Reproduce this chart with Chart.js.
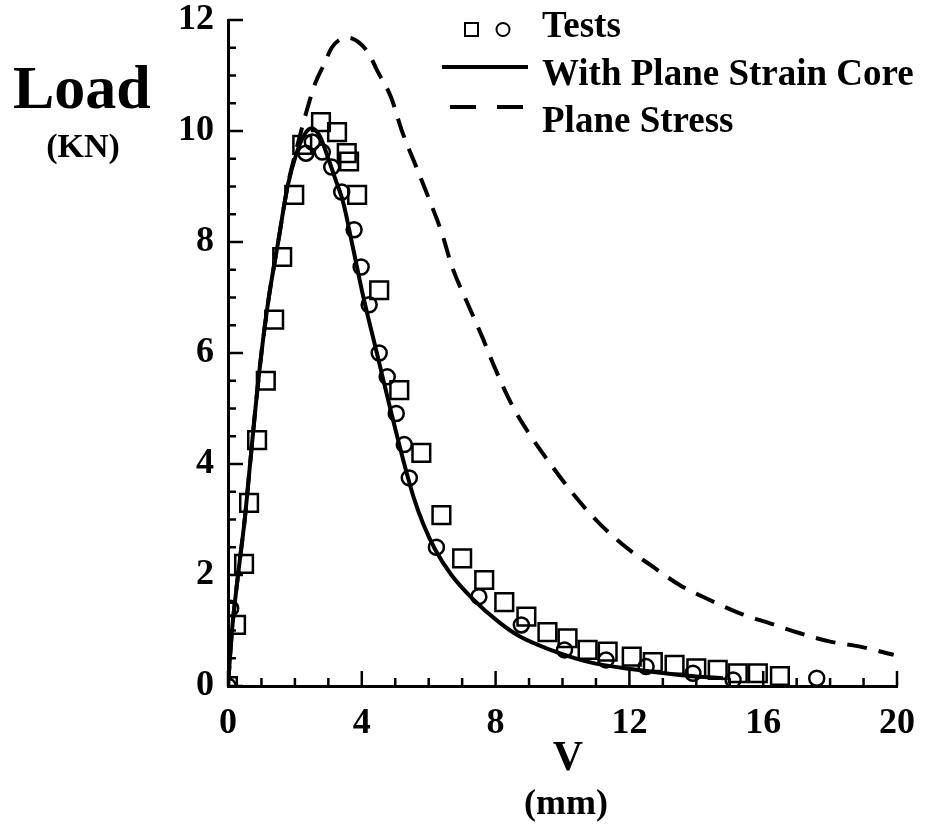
<!DOCTYPE html>
<html>
<head>
<meta charset="utf-8">
<title>Load vs V</title>
<script src="https://cdn.jsdelivr.net/npm/chart.js@4.4.1/dist/chart.umd.min.js"></script>
<style>
  body { margin: 0; background: #fff; }
  #wrap { position: relative; width: 927px; height: 826px; }
</style>
</head>
<body>
<div id="wrap"><canvas id="myChart" width="927" height="826"></canvas></div>
<script>
// tests - squares
let squareV = [0, 0.24, 0.48, 0.63, 0.87, 1.13, 1.38, 1.62, 1.98, 2.22, 2.78, 3.26, 3.55, 3.62, 3.86, 4.52, 5.12, 5.78, 6.38, 7.0, 7.66, 8.26, 8.92, 9.55, 10.15, 10.75, 11.35, 12.07, 12.7, 13.35, 14.0, 14.64, 15.24, 15.84, 16.5];
let squareLoad = [0, 1.1, 2.2, 3.3, 4.43, 5.5, 6.6, 7.73, 8.85, 9.75, 10.16, 9.98, 9.6, 9.45, 8.85, 7.13, 5.33, 4.2, 3.08, 2.3, 1.91, 1.51, 1.25, 0.97, 0.86, 0.65, 0.62, 0.53, 0.43, 0.38, 0.32, 0.29, 0.23, 0.23, 0.18];

// tests - circles
let circleV = [0, 0.08, 2.33, 2.52, 2.82, 3.1, 3.4, 3.77, 3.98, 4.22, 4.52, 4.76, 5.03, 5.27, 5.42, 6.23, 7.5, 8.77, 10.06, 11.3, 12.5, 13.9, 15.1, 17.6];
let circleLoad = [0, 1.4, 9.6, 9.8, 9.62, 9.35, 8.9, 8.22, 7.55, 6.87, 6.0, 5.57, 4.91, 4.35, 3.75, 2.5, 1.61, 1.1, 0.65, 0.47, 0.35, 0.23, 0.11, 0.14];

// with plane strain core
let coreV = [0, 0.12, 0.3, 0.5, 0.66, 0.82, 1.0, 1.22, 1.5, 1.78, 2.05, 2.3, 2.5, 2.75, 3.0, 3.2, 3.45, 3.7, 4.05, 4.45, 4.85, 5.27, 5.55, 5.85, 6.2, 6.68, 7.3, 8.1, 8.7, 9.6, 10.8, 12.1, 13.5, 14.8];
let coreLoad = [0, 1, 2, 3, 4, 5, 6, 7, 8, 9, 9.6, 9.95, 10.05, 9.9, 9.5, 9.15, 8.7, 8.0, 7.0, 6.0, 5.0, 4.0, 3.4, 2.9, 2.45, 2.0, 1.58, 1.15, 0.9, 0.66, 0.43, 0.3, 0.2, 0.14];

// plane stress
let stressV = [0, 0.12, 0.3, 0.5, 0.66, 0.82, 1.0, 1.22, 1.5, 1.78, 2.1, 2.37, 2.6, 2.87, 3.1, 3.35, 3.6, 4.0, 4.25, 4.45, 4.88, 5.2, 5.63, 6.02, 6.4, 6.7, 7.12, 7.6, 8.0, 8.5, 9.0, 9.7, 10.4, 11.1, 11.9, 12.7, 13.5, 14.4, 15.3, 16.2, 17.1, 18.0, 18.9, 19.9];
let stressLoad = [0, 1, 2, 3, 4, 5, 6, 7, 8, 9, 9.8, 10.4, 10.85, 11.2, 11.5, 11.65, 11.68, 11.55, 11.35, 11.1, 10.6, 10.0, 9.35, 8.76, 8.15, 7.55, 6.95, 6.29, 5.7, 5.05, 4.55, 3.95, 3.4, 2.93, 2.5, 2.15, 1.82, 1.55, 1.31, 1.13, 0.95, 0.8, 0.71, 0.56];

let xTicks = [0, 4, 8, 12, 16, 20];
let yTicks = [0, 2, 4, 6, 8, 10, 12];
let legendNames = ["Tests", "With Plane Strain Core", "Plane Stress"];

let serif = "'Liberation Serif', 'Times New Roman', serif";

function toPoints(xs, ys) {
  return xs.map((x, i) => ({ x: x, y: ys[i] }));
}

// minor + major ticks pointing into the plot
let inwardTicks = {
  id: "inwardTicks",
  afterDatasetsDraw(chart) {
    let ctx = chart.ctx;
    let xs = chart.scales.x;
    let ys = chart.scales.y;
    let area = chart.chartArea;
    ctx.save();
    ctx.strokeStyle = "#000";
    ctx.lineWidth = 2.5;
    for (let v = 0; v <= 20; v += 1) {
      let len = v % 4 == 0 ? 15 : 8;
      let px = xs.getPixelForValue(v);
      ctx.beginPath();
      ctx.moveTo(px, area.bottom);
      ctx.lineTo(px, area.bottom - len);
      ctx.stroke();
    }
    for (let v = 0; v <= 12; v += 0.5) {
      let len = v % 2 == 0 ? 15 : 8;
      let py = ys.getPixelForValue(v);
      ctx.beginPath();
      ctx.moveTo(area.left, py);
      ctx.lineTo(area.left + len, py);
      ctx.stroke();
    }
    ctx.restore();
  },
};

// axis titles and the legend box
let labels = {
  id: "labels",
  afterDraw(chart) {
    let ctx = chart.ctx;
    ctx.save();
    ctx.fillStyle = "#000";
    ctx.textBaseline = "alphabetic";

    ctx.textAlign = "left";
    ctx.font = "bold 62px " + serif;
    ctx.fillText("Load", 13, 108);
    ctx.textAlign = "center";
    ctx.font = "bold 34px " + serif;
    ctx.fillText("(KN)", 83, 157);

    ctx.font = "bold 42px " + serif;
    ctx.fillText("V", 568, 770);
    ctx.font = "bold 36px " + serif;
    ctx.fillText("(mm)", 566, 814);

    // legend
    ctx.strokeStyle = "#000";
    ctx.lineWidth = 2;
    ctx.strokeRect(465, 23, 13, 13);
    ctx.beginPath();
    ctx.arc(503, 29.5, 6.5, 0, Math.PI * 2);
    ctx.stroke();

    ctx.lineWidth = 4;
    ctx.beginPath();
    ctx.moveTo(442, 67);
    ctx.lineTo(528, 67);
    ctx.stroke();
    ctx.beginPath();
    ctx.moveTo(450, 107);
    ctx.lineTo(476, 107);
    ctx.moveTo(497, 107);
    ctx.lineTo(523, 107);
    ctx.stroke();

    ctx.textAlign = "left";
    ctx.font = "bold 37px " + serif;
    ctx.fillText(legendNames[0], 542, 37);
    ctx.fillText(legendNames[1], 542, 85);
    ctx.fillText(legendNames[2], 542, 132);
    ctx.restore();
  },
};

let ctx = document.getElementById("myChart");

new Chart(ctx, {
  type: "scatter",
  data: {
    datasets: [
      {
        label: "Tests (squares)",
        data: toPoints(squareV, squareLoad),
        pointStyle: "rect",
        pointRadius: 12.5,
        borderColor: "#000",
        backgroundColor: "rgba(0,0,0,0)",
        borderWidth: 2.5,
        order: 1,
      },
      {
        label: "Tests (circles)",
        data: toPoints(circleV, circleLoad),
        pointStyle: "circle",
        pointRadius: 7.5,
        borderColor: "#000",
        backgroundColor: "rgba(0,0,0,0)",
        borderWidth: 2.5,
        order: 2,
      },
      {
        label: legendNames[1],
        data: toPoints(coreV, coreLoad),
        showLine: true,
        borderColor: "#000",
        borderWidth: 4,
        pointRadius: 0,
        cubicInterpolationMode: "monotone",
        order: 3,
      },
      {
        label: legendNames[2],
        data: toPoints(stressV, stressLoad),
        showLine: true,
        borderColor: "#000",
        borderWidth: 4,
        borderDash: [20, 12],
        pointRadius: 0,
        cubicInterpolationMode: "monotone",
        order: 4,
      },
    ],
  },
  options: {
    responsive: false,
    animation: false,
    devicePixelRatio: 1,
    layout: { padding: { left: 0, top: 20, right: 30, bottom: 0 } },
    plugins: {
      legend: { display: false },
      tooltip: { enabled: false },
    },
    scales: {
      x: {
        type: "linear",
        min: 0,
        max: 20,
        afterFit(scale) {
          scale.height = 140;
          scale.paddingLeft = 0;
          scale.paddingRight = 0;
        },
        afterBuildTicks(scale) {
          scale.ticks = xTicks.map((v) => ({ value: v }));
        },
        grid: { display: false, drawTicks: false },
        border: { display: true, color: "#000", width: 3 },
        ticks: {
          color: "#000",
          padding: 20,
          autoSkip: false,
          maxRotation: 0,
          font: { family: serif, size: 36, weight: "bold", lineHeight: 1 },
        },
      },
      y: {
        type: "linear",
        min: 0,
        max: 12,
        afterFit(scale) {
          scale.width = 228;
          scale.paddingTop = 0;
          scale.paddingBottom = 0;
        },
        afterBuildTicks(scale) {
          scale.ticks = yTicks.map((v) => ({ value: v }));
        },
        grid: { display: false, drawTicks: false },
        border: { display: true, color: "#000", width: 3 },
        ticks: {
          color: "#000",
          padding: 14,
          autoSkip: false,
          font: { family: serif, size: 36, weight: "bold", lineHeight: 1 },
        },
      },
    },
  },
  plugins: [inwardTicks, labels],
});
</script>
</body>
</html>
